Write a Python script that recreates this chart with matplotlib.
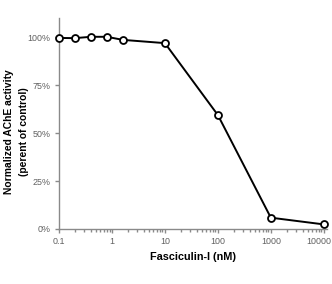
import matplotlib
matplotlib.use('Agg')
import matplotlib.pyplot as plt
from matplotlib.transforms import ScaledTranslation
from matplotlib.ticker import FixedLocator, LogLocator, NullFormatter

conc_nM = [0.1, 0.2, 0.4, 0.8, 1.6, 10, 100, 1000, 10000]
activity = [99.6, 99.5, 100.2, 100.2, 98.6, 96.9, 59.4, 5.9, 2.4]
x_ticks = [0.1, 1, 10, 100, 1000, 10000]
x_ticklabels = ['0.1', '1', '10', '100', '1000', '10000']
y_ticks = [0, 25, 50, 75, 100]
y_ticklabels = ['0%', '25%', '50%', '75%', '100%']

plt.rcParams['font.family'] = ['Liberation Sans', 'DejaVu Sans']

fig = plt.figure(figsize=(3.32, 2.84), dpi=100)
ax = fig.add_axes([59 / 332, 1 - 229 / 284, 268 / 332, 211 / 284])

ax.plot(conc_nM, activity, color='black', lw=1.4, marker='o', ms=5,
        mfc='white', mec='black', mew=1.3, clip_on=False, zorder=3)

ax.set_xscale('log')
ax.set_xlim(0.1, 11500)
ax.set_ylim(0, 110)

grey = '#8a8a8a'
for side in ['top', 'right']:
    ax.spines[side].set_visible(False)
for side in ['left', 'bottom']:
    ax.spines[side].set_color(grey)
    ax.spines[side].set_linewidth(1.0)

ax.xaxis.set_major_locator(FixedLocator(x_ticks))
ax.set_xticklabels(x_ticklabels)
ax.xaxis.set_minor_locator(LogLocator(base=10, subs=range(2, 10)))
ax.xaxis.set_minor_formatter(NullFormatter())
ax.set_yticks(y_ticks)
ax.set_yticklabels(y_ticklabels)

ax.tick_params(axis='both', which='major', color=grey, direction='out', length=3,
               width=1, labelsize=6.4, labelcolor='#606060', pad=3)
ax.tick_params(axis='x', which='minor', color=grey, direction='out', length=2, width=1)

# keep the last x label inside the figure
last = ax.get_xticklabels()[-1]
last.set_transform(last.get_transform() + ScaledTranslation(-5 / 100, 0, fig.dpi_scale_trans))

ax.set_xlabel('Fasciculin-I (nM)', fontsize=7.8, fontweight='bold', labelpad=4)
ax.set_ylabel('Normalized AChE activity\n(perent of control)', fontsize=7.4,
              fontweight='bold', linespacing=1.55)
ax.yaxis.set_label_coords(-0.113, 0.46)

fig.savefig('out.png', dpi=100)
